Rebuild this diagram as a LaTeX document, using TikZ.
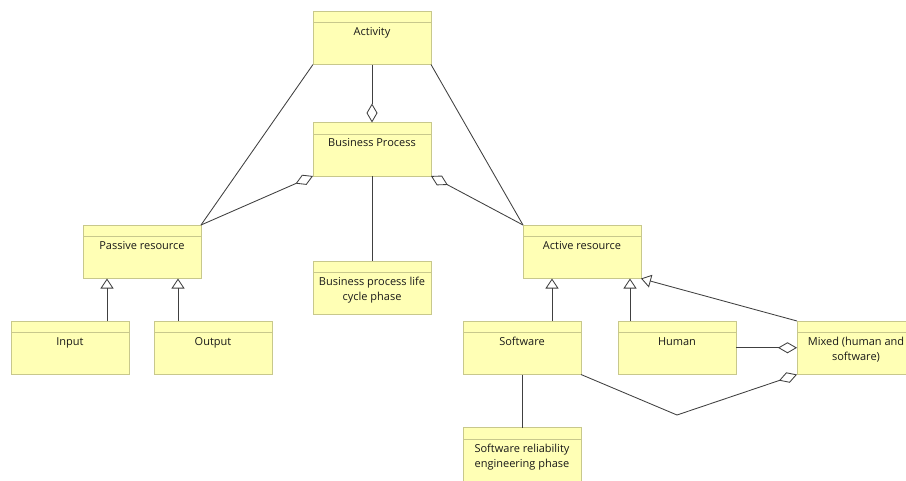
\documentclass[tikz,border=0pt]{standalone}
\usepackage{fontspec}
\setmainfont{Open Sans}
\usetikzlibrary{arrows.meta,positioning}

\definecolor{classfill}{RGB}{255,255,181}
\definecolor{classline}{RGB}{200,200,140}
\definecolor{linkgray}{RGB}{64,64,64}

\tikzstyle{umlclass} = [rectangle, draw=classline, fill=classfill, line width=0.9pt,
minimum width=118pt, minimum height=53.5pt, inner sep=0pt, outer sep=0pt,
path picture={\draw[classline, line width=0.9pt] ([yshift=-11.5pt]path picture bounding box.north west) -- ([yshift=-11.5pt]path picture bounding box.north east);}]
\tikzstyle{classname} = [anchor=north, inner sep=0pt, align=center, yshift=-16pt,
font=\fontsize{11}{15}\selectfont, text=black!90]
\tikzstyle{link} = [draw=linkgray, line width=0.85pt]
\tikzstyle{aggregation} = [link, -{Diamond[open, length=19pt, width=11pt]}]
\tikzstyle{generalization} = [link, -{Triangle[open, length=10pt, width=13pt]}]

\begin{document}
\begin{tikzpicture}[x=1pt, y=-1pt]
			\useasboundingbox (0,0) rectangle (906,480);
			\fill [white] (0,0) rectangle (906,480);
			
			\node (activity) [umlclass, anchor=north west, label={[classname]north:Activity}] at (313,11) {};
			\node (process) [umlclass, below=58pt of activity, label={[classname]north:Business Process}] {};
			\node (lifecycle) [umlclass, below=85pt of process, label={[classname]north:Business process life\\cycle phase}] {};
			\node (passive) [umlclass, anchor=north west, label={[classname]north:Passive resource}] at (83,225) {};
			\node (active) [umlclass, anchor=north west, label={[classname]north:Active resource}] at (523,225) {};
			\node (input) [umlclass, anchor=north west, label={[classname]north:Input}] at (11,321) {};
			\node (output) [umlclass, right=25pt of input, label={[classname]north:Output}] {};
			\node (software) [umlclass, anchor=north west, label={[classname]north:Software}] at (463,321) {};
			\node (human) [umlclass, right=37pt of software, label={[classname]north:Human}] {};
			\node (mixed) [umlclass, right=61pt of human, label={[classname]north:Mixed (human and\\software)}] {};
			\node (reliability) [umlclass, below=53pt of software, label={[classname]north:Software reliability\\engineering phase}] {};
			\coordinate (dip) at (677,415);
			
			\draw [aggregation] (activity.south) -- (process.north);
			\draw [link] (activity.south west) -- (passive.north east);
			\draw [link] (activity.south east) -- (active.north west);
			\draw [aggregation] (passive.north east) -- (process.south west);
			\draw [aggregation] (active.north west) -- (process.south east);
			\draw [link] (process) -- (lifecycle);
			\draw [generalization] ([xshift=-22pt]input.north east) -- ([xshift=24pt]passive.south west);
			\draw [generalization] ([xshift=24pt]output.north west) -- ([xshift=-23pt]passive.south east);
			\draw [generalization] ([xshift=-29pt]software.north east) -- ([xshift=29pt]active.south west);
			\draw [generalization] ([xshift=12pt]human.north west) -- ([xshift=-11pt]active.south east);
			\draw [generalization] (mixed.north west) -- (active.south east);
			\draw [aggregation] (human) -- (mixed);
			\draw [aggregation] (software.south east) -- (dip) -- (mixed.south west);
			\draw [link] (software) -- (reliability);
			
		\end{tikzpicture}
\end{document}
